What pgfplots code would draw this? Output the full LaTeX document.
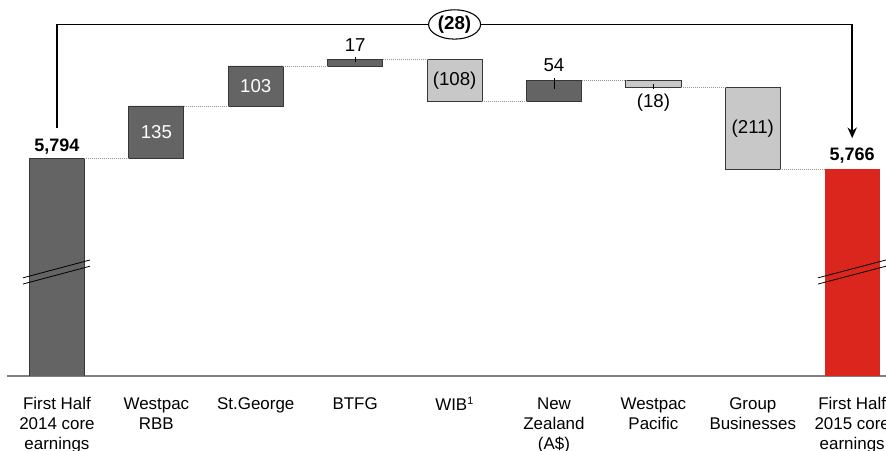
\documentclass[border=0pt]{standalone}
\usepackage{pgfplots}
\pgfplotsset{compat=1.18}
\usetikzlibrary{arrows.meta,shapes.geometric}
\usepackage{fontspec}
\setmainfont{Liberation Sans}
\definecolor{up}{RGB}{100,100,100}
\definecolor{down}{RGB}{200,200,200}
\definecolor{tot}{RGB}{218,38,28}
\definecolor{edge}{RGB}{55,55,55}
\pgfplotsset{frame/.style={
    scale only axis,
    width=659.25pt, height=282pt,
    xmin=-0.503, xmax=8.34,
    ymin=5233, ymax=6202,
}}
\begin{document}
\begin{tikzpicture}
\begin{axis}[
    frame,
    ybar stacked, bar width=41.25pt,
    axis x line=bottom, axis y line=none,
    axis line style={-, draw={rgb,255:red,128;green,128;blue,128}, line width=1pt},
    xtick={0,...,8}, major tick length=0pt,
    xticklabels={First Half\\2014 core\\earnings, Westpac\\RBB, St.George, BTFG, WIB\textsuperscript{\fontsize{8}{9}\selectfont 1},
        New\\Zealand\\(A\$), Westpac\\Pacific, Group\\Businesses, First Half\\2015 core\\earnings},
    xticklabel style={align=center, font=\fontsize{12.7}{15}\selectfont, yshift=-12.5pt},
    ytick=\empty,
]
% invisible base
\addplot[draw=none, fill=none] coordinates {(0,0)(1,5794)(2,5929)(3,6032)(4,5941)(5,5941)(6,5977)(7,5766)(8,0)};
% increases
\addplot[fill=up, draw=edge, line width=0.6pt] coordinates {(0,5794)(1,135)(2,103)(3,17)(4,0)(5,54)(6,0)(7,0)(8,0)};
% decreases
\addplot[fill=down, draw=edge, line width=0.6pt] coordinates {(0,0)(1,0)(2,0)(3,0)(4,108)(5,0)(6,18)(7,211)(8,0)};
% closing total
\addplot[fill=tot, draw=none] coordinates {(0,0)(1,0)(2,0)(3,0)(4,0)(5,0)(6,0)(7,0)(8,5766)};
\coordinate (bl) at (axis cs:-0.573,5042);
\coordinate (tr) at (axis cs:8.34,6202);
\end{axis}

\begin{axis}[frame, axis lines=none, clip=false]
% connectors
\addplot[draw={rgb,255:red,150;green,150;blue,150}, densely dotted, line width=0.5pt, unbounded coords=jump] coordinates {
(0.277,5794)(0.723,5794) (nan,nan)
(1.277,5929)(1.723,5929) (nan,nan)
(2.277,6032)(2.723,6032) (nan,nan)
(3.277,6049)(3.723,6049) (nan,nan)
(4.277,5941)(4.723,5941) (nan,nan)
(5.277,5995)(5.723,5995) (nan,nan)
(6.277,5977)(6.723,5977) (nan,nan)
(7.277,5766)(7.723,5766)};

% value labels
\node[font=\fontsize{13.5}{16}\bfseries\selectfont] at (axis cs:0,5823) {5,794};
\node[font=\fontsize{14}{16}\selectfont, text=white] at (axis cs:1,5861) {135};
\node[font=\fontsize{14}{16}\selectfont, text=white] at (axis cs:2,5980) {103};
\node[font=\fontsize{14}{16}\selectfont] at (axis cs:3,6086) {17};
\node[font=\fontsize{14}{16}\selectfont] at (axis cs:4,5995) {(108)};
\node[font=\fontsize{14}{16}\selectfont] at (axis cs:5,6033) {54};
\node[font=\fontsize{14}{16}\selectfont] at (axis cs:6,5937) {(18)};
\node[font=\fontsize{14}{16}\selectfont] at (axis cs:7,5871) {(211)};
\node[font=\fontsize{13.5}{16}\bfseries\selectfont] at (axis cs:8,5800) {5,766};
\draw[line width=0.6pt] (axis cs:3,6042) -- (axis cs:3,6055);
\draw[line width=0.6pt] (axis cs:5,5973) -- (axis cs:5,6001);
\draw[line width=0.6pt] (axis cs:6,5973) -- (axis cs:6,5986);

% axis break marks
\draw[line width=0.6pt] (axis cs:-0.342,5486) -- (axis cs:0.332,5532);
\draw[line width=0.6pt] (axis cs:-0.342,5470) -- (axis cs:0.332,5516);
\draw[line width=0.6pt] (axis cs:7.656,5486) -- (axis cs:8.34,5532);
\draw[line width=0.6pt] (axis cs:7.656,5470) -- (axis cs:8.34,5516);

% overall change bracket
\draw[line width=1.2pt, -{Stealth[length=8pt,width=7pt]}] (axis cs:0,5872) -- (axis cs:0,6139) -- (axis cs:8.0,6139) -- (axis cs:8.0,5846);
\node[draw, ellipse, fill=white, line width=0.8pt, inner sep=1pt, minimum width=39pt, minimum height=22pt,
      font=\fontsize{14}{16}\bfseries\selectfont] at (axis cs:4,6139) {(28)};
\end{axis}
\pgfresetboundingbox
\path[use as bounding box] (bl) rectangle (tr);
\end{tikzpicture}
\end{document}
